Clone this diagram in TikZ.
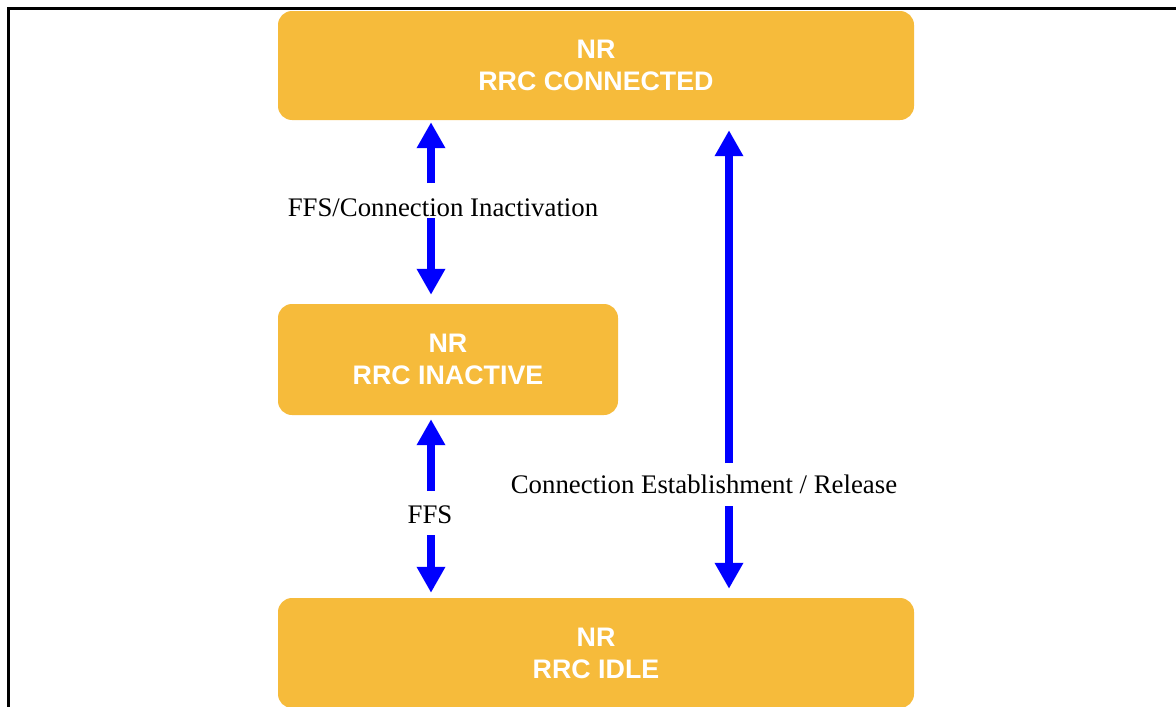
\documentclass[tikz,border=0pt]{standalone}
\usepackage{fontspec}
\setmainfont{Liberation Serif}
\newfontfamily\boxfont{Liberation Sans}
\usetikzlibrary{arrows.meta}
\definecolor{stateorange}{HTML}{F6BB3B}
\definecolor{arrowblue}{HTML}{0000FF}
\tikzset{
  state/.style={fill=stateorange, rounded corners=14pt, inner sep=0pt,
    text=white, align=center, font=\boxfont\bfseries\fontsize{26.8}{32}\selectfont},
  lbl/.style={inner sep=0pt, anchor=base, font=\fontsize{26.8}{32}\selectfont},
  arr/.style={draw=arrowblue, line width=8pt,
    -{Triangle[width=27pt,length=26pt]}, fill=arrowblue},
  frame/.style={line width=3pt, draw=black}
}
\begin{document}
\begin{tikzpicture}[x=1pt,y=-1pt]
\useasboundingbox (0,0) rectangle (1176,707);
\draw[frame] (8.3,730) -- (8.3,8.8) -- (1200,8.8);
\node[state, minimum width=636pt, minimum height=109pt] (top) at (596,65.5) {NR\\RRC CONNECTED};
\node[state, minimum width=340pt, minimum height=111pt] (mid) at (448,359.5) {NR\\RRC INACTIVE};
\node[state, minimum width=636pt, minimum height=110pt] (bot) at (596,653) {NR\\RRC IDLE};
\node[lbl] (l1) at (443,216) {FFS/Connection Inactivation};
\node[lbl] (l2) at (430,523) {FFS};
\node[lbl] (l3) at (704,493) {Connection Establishment / Release};
\coordinate (p1) at (431,183);
\coordinate (p2) at (431,218);
\coordinate (p3) at (431,491);
\coordinate (p4) at (431,535);
\coordinate (p5) at (729,463);
\coordinate (p6) at (729,506);
\draw[arr, shorten >=2pt] (p1) -- (top.south -| p1);
\draw[arr, shorten >=9pt] (p2) -- (mid.north -| p2);
\draw[arr, shorten >=4pt] (p3) -- (mid.south -| p3);
\draw[arr, shorten >=5pt] (p4) -- (bot.north -| p4);
\draw[arr, shorten >=10pt] (p5) -- (top.south -| p5);
\draw[arr, shorten >=9pt] (p6) -- (bot.north -| p6);
\end{tikzpicture}
\end{document}
